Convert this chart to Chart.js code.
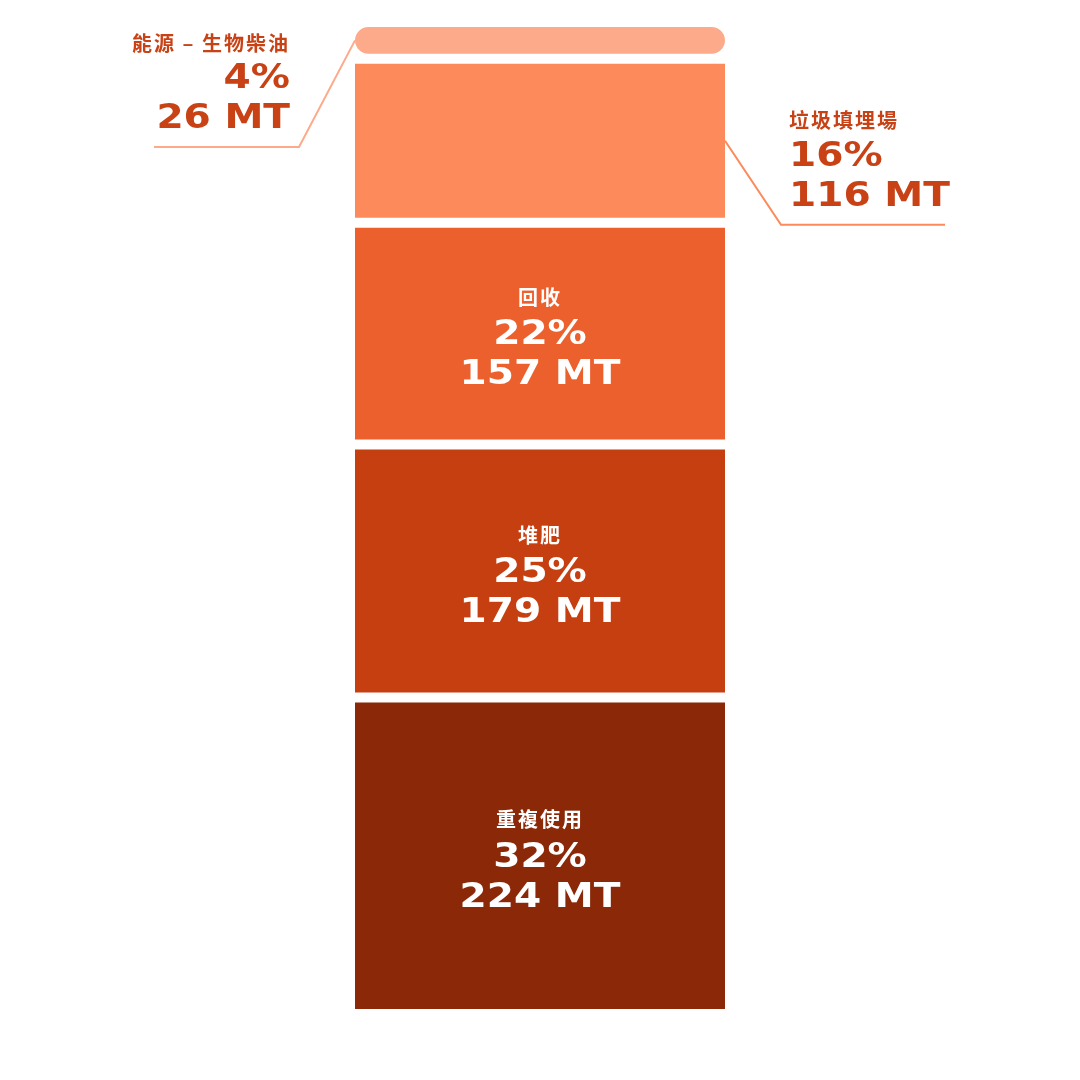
<!DOCTYPE html>
<html><head><meta charset="utf-8">
<script src="https://cdn.jsdelivr.net/npm/chart.js@4"></script>
<style>html,body{margin:0;background:#fff}#w{width:1080px;height:1080px}</style>
</head><body><div id="w"><canvas id="c"></canvas></div>
<script>
// bottom -> top
const categories = ["重複使用","堆肥","回收","垃圾填埋場","能源 – 生物柴油"];
const valuesMT = [224,179,157,116,26];
const percents = [32,25,22,16,4];
const colors = ["#8A2807","#C63F11","#EC602E","#FC8A5A","#FDAA8A"];
const total = valuesMT.reduce((a,b)=>a+b,0);

const labelPlugin = {
  id:'labels',
  afterDatasetsDraw(chart){
    const ctx = chart.ctx;
    ctx.save();
    const catFont = 'bold 20px "Noto Sans CJK TC"';
    const numFont = 'bold 34px "DejaVu Sans"';
    const wide = (t,x,y,align)=>{ // horizontally stretched number text
      ctx.save(); ctx.font = numFont; ctx.textBaseline='middle';
      const w = ctx.measureText(t).width*1.15;
      let sx = align==='center'? x-w/2 : align==='right'? x-w : x;
      ctx.translate(sx,y); ctx.scale(1.15,1); ctx.textAlign='left'; ctx.fillText(t,0,0); ctx.restore();
    };
    const cat = (t,x,y,align)=>{
      ctx.font = catFont; ctx.textBaseline='middle'; ctx.textAlign=align;
      if (ctx.letterSpacing!==undefined) ctx.letterSpacing='2px';
      ctx.fillText(t,x,y);
      if (ctx.letterSpacing!==undefined) ctx.letterSpacing='0px';
    };
    chart.data.datasets.forEach((ds,i)=>{
      const el = chart.getDatasetMeta(i).data[0];
      const top = Math.min(el.y, el.base), bot = Math.max(el.y, el.base);
      const mid = (top+bot)/2;
      const left = el.x - el.width/2 + 5, right = el.x + el.width/2 - 5;
      const p = percents[i]+'%', mt = valuesMT[i]+' MT';
      if (i<=2){
        ctx.fillStyle='#fff';
        cat(categories[i], el.x, mid-36, 'center');
        wide(p, el.x, mid+2, 'center');
        wide(mt, el.x, mid+42, 'center');
      } else if (i===3){
        ctx.fillStyle='#C84215';
        const ty = top+62;
        cat(categories[i], 789, ty, 'left');
        wide(p, 789, ty+36, 'left');
        wide(mt, 789, ty+76, 'left');
        ctx.strokeStyle=colors[i]; ctx.lineWidth=2;
        ctx.beginPath(); ctx.moveTo(right, mid); ctx.lineTo(781, ty+104); ctx.lineTo(945, ty+104); ctx.stroke();
      } else {
        ctx.fillStyle='#C84215';
        cat(categories[i], 290, 43, 'right');
        wide(p, 290, 79, 'right');
        wide(mt, 290, 119, 'right');
        ctx.strokeStyle=colors[i]; ctx.lineWidth=2;
        ctx.beginPath(); ctx.moveTo(left, mid); ctx.lineTo(299,147); ctx.lineTo(154,147); ctx.stroke();
      }
    });
    ctx.restore();
  }
};

new Chart(document.getElementById('c'),{
  type:'bar',
  data:{labels:[''],datasets:categories.map((c,i)=>({
    label:c,data:[valuesMT[i]],backgroundColor:colors[i],
    borderColor:'#fff',borderWidth:5,borderRadius:20,borderSkipped:false
  }))},
  options:{
    responsive:true,maintainAspectRatio:false,animation:false,
    layout:{padding:{top:22,bottom:66,left:0,right:0}},
    plugins:{legend:{display:false},tooltip:{enabled:false}},
    datasets:{bar:{categoryPercentage:1,barPercentage:380/1080}},
    scales:{
      x:{stacked:true,display:false},
      y:{stacked:true,display:false,min:0,max:total}
    }
  },
  plugins:[labelPlugin]
});
</script></body></html>
